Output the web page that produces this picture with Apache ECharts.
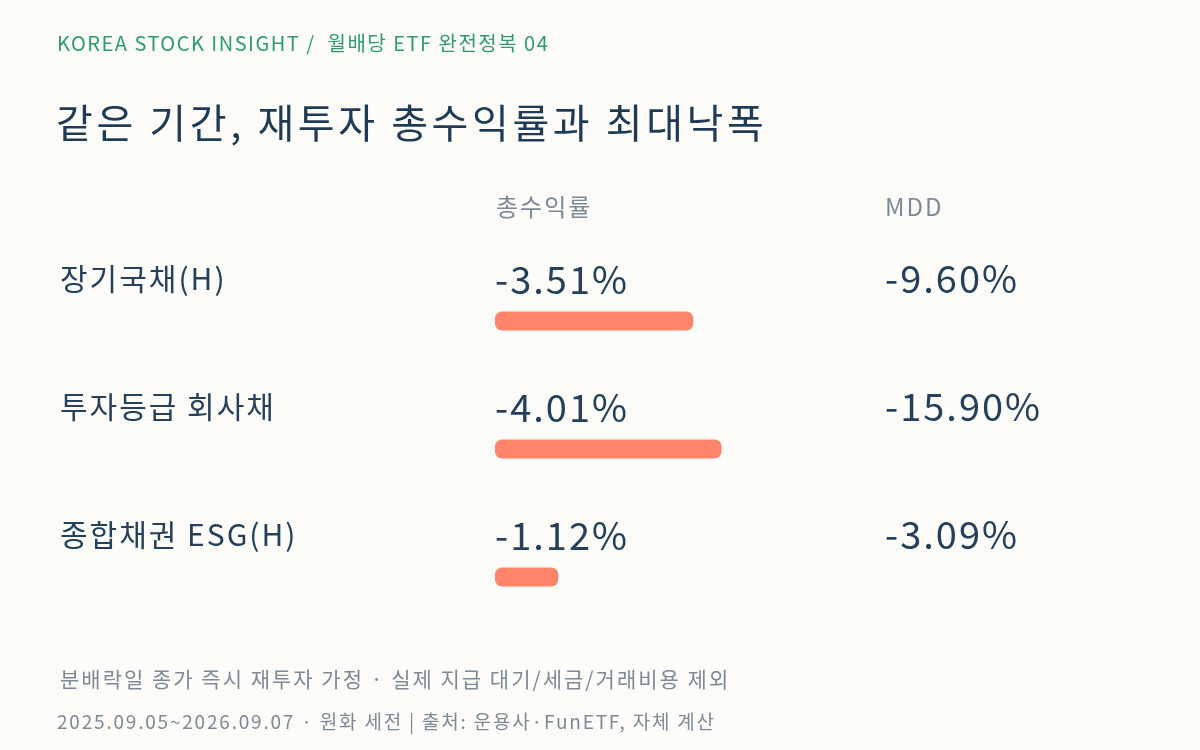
<!DOCTYPE html>
<html>
<head>
<meta charset="utf-8">
<script src="https://cdn.jsdelivr.net/npm/echarts@6/dist/echarts.min.js"></script>
<style>
html, body { margin: 0; padding: 0; background: #fdfcf8; }
#chart { width: 1200px; height: 750px; }
</style>
</head>
<body>
<div id="chart"></div>
<script>
// 데이터
var funds = ['장기국채(H)', '투자등급 회사채', '종합채권 ESG(H)'];
var totalReturn = [-3.51, -4.01, -1.12];
var mdd = [-9.60, -15.90, -3.09];
var headers = ['총수익률', 'MDD'];

var FONT = 'Noto Sans CJK KR';
var NAVY = '#24405b';
var GRAY = '#7c8a98';

function pct(v){
    return v.toFixed(2) + '%';
}

function textEl(x, y, text, size, color, zlevel){
    return {
        type: 'text', left: x, top: y, zlevel: zlevel || 0,
        style: { text: text, fontFamily: FONT, fontSize: size, fill: color }
    };
}

var option = {
    backgroundColor: '#fdfcf8',
    animation: false,
    graphic: [
        textEl(57, 33, 'KOREA STOCK INSIGHT /  월배당 ETF 완전정복 04', 20, '#2e9a72', 2),
        textEl(56, 103, '같은 기간, 재투자 총수익률과 최대낙폭', 40, '#1e3a54', 1),
        textEl(496, 195, headers[0], 24, GRAY),
        textEl(885, 195, headers[1], 24, GRAY),
        textEl(60, 669, '분배락일 종가 즉시 재투자 가정 · 실제 지급 대기/세금/거래비용 제외', 21, GRAY),
        textEl(57, 712, '2025.09.05~2026.09.07 · 원화 세전 | 출처: 운용사·FunETF, 자체 계산', 19, GRAY, 3)
    ],
    grid: { left: 495, top: 257, width: 565, height: 384 },
    xAxis: {
        type: 'value', min: 0, max: 10,
        show: false
    },
    yAxis: [{
        type: 'category', inverse: true, data: funds,
        axisLine: {show: false}, axisTick: {show: false}, splitLine: {show: false},
        axisLabel: {
            align: 'left', margin: 435,
            fontFamily: FONT, fontSize: 30, color: NAVY,
            verticalAlign: 'bottom', lineHeight: 84
        }
    }, {
        type: 'category', inverse: true, position: 'left',
        data: mdd.map(pct),
        axisLine: {show: false}, axisTick: {show: false}, splitLine: {show: false},
        axisLabel: {
            inside: true, align: 'left', margin: 390,
            fontFamily: FONT, fontSize: 38, color: NAVY,
            verticalAlign: 'bottom', lineHeight: 84
        }
    }],
    series: [{
        type: 'bar',
        data: totalReturn.map(function(v){ return Math.abs(v); }),
        barWidth: 19,
        itemStyle: { color: '#ff8469', borderRadius: 7 },
        label: {
            show: true,
            position: [0, -32],
            align: 'left', verticalAlign: 'middle',
            fontFamily: FONT, fontSize: 38, color: NAVY,
            formatter: function(p){ return pct(totalReturn[p.dataIndex]); }
        }
    }]
};

var chart = echarts.init(document.getElementById('chart'));

// 자간 - 레이어별로 캔버스 letterSpacing 지정
var spacing = {0: '2px', 1: '3.6px', 2: '1.5px', 3: '1.8px'};
var painter = chart.getZr().painter;
if(painter && painter.getLayer){
    for(var z in spacing){
        var layer = painter.getLayer(+z);
        if(layer && layer.ctx) layer.ctx.letterSpacing = spacing[z];
    }
}

chart.setOption(option);
window.onresize = chart.resize;
</script>
</body>
</html>
